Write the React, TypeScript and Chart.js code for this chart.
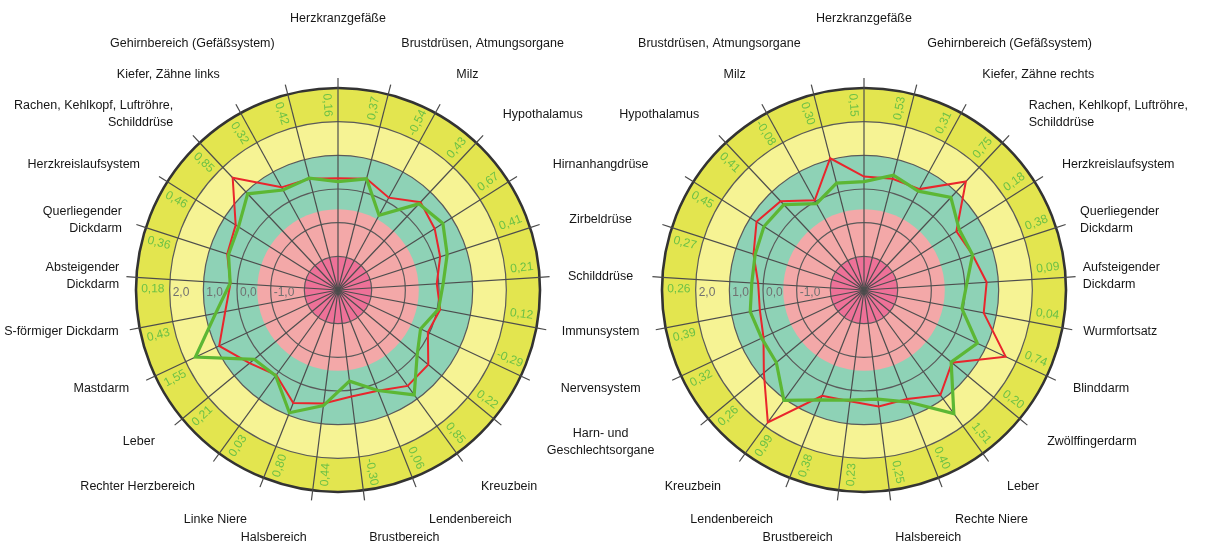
import { useEffect, useRef } from 'react';
import { Chart, registerables } from 'chart.js';

Chart.register(...registerables);

// ---------- data ----------
const leftLabels = [
  'Herzkranzgefäße', 'Brustdrüsen, Atmungsorgane', 'Milz', 'Hypothalamus', 'Hirnanhangdrüse',
  'Zirbeldrüse', 'Schilddrüse', 'Immunsystem', 'Nervensystem', 'Harn- und\nGeschlechtsorgane',
  'Kreuzbein', 'Lendenbereich', 'Brustbereich', 'Halsbereich', 'Linke Niere',
  'Rechter Herzbereich', 'Leber', 'Mastdarm', 'S-förmiger Dickdarm', 'Absteigender\nDickdarm',
  'Querliegender\nDickdarm', 'Herzkreislaufsystem', 'Rachen, Kehlkopf, Luftröhre,\nSchilddrüse',
  'Kiefer, Zähne links', 'Gehirnbereich (Gefäßsystem)',
];
const leftRed = [0.32, 0.41, 0.13, 0.58, 0.40, 0.19, -0.06, 0.09, -0.05, 0.48, 0.52, 0.22, 0.19,
  0.40, 0.61, 0.12, 0.41, 0.90, 0.41, 0.20, 0.46, 0.60, 1.57, 0.48, 0.41];
const leftGreen = [0.22, 0.41, -0.47, 0.51, 0.69, 0.41, 0.13, 0.04, -0.29, 0.05, 0.85, 0.21, -0.27,
  0.46, 0.92, 0.15, 0.23, 1.68, 0.70, 0.21, 0.42, 0.50, 0.92, 0.39, 0.43];
const leftNumbers = ['0,16', '0,37', '-0,54', '0,43', '0,67', '0,41', '0,21', '0,12', '-0,29', '0,22',
  '0,85', '0,06', '-0,30', '0,44', '0,80', '0,03', '0,21', '1,55', '0,43', '0,18', '0,36', '0,46',
  '0,85', '0,32', '0,42'];

const rightLabels = [
  'Herzkranzgefäße', 'Gehirnbereich (Gefäßsystem)', 'Kiefer, Zähne rechts',
  'Rachen, Kehlkopf, Luftröhre,\nSchilddrüse', 'Herzkreislaufsystem', 'Querliegender\nDickdarm',
  'Aufsteigender\nDickdarm', 'Wurmfortsatz', 'Blinddarm', 'Zwölffingerdarm', 'Leber',
  'Rechte Niere', 'Halsbereich', 'Brustbereich', 'Lendenbereich', 'Kreuzbein',
  'Harn- und\nGeschlechtsorgane', 'Nervensystem', 'Immunsystem', 'Schilddrüse', 'Zirbeldrüse',
  'Hirnanhangdrüse', 'Hypothalamus', 'Milz', 'Brustdrüsen, Atmungsorgane',
];
const rightRed = [0.37, 0.41, 0.42, 1.42, 0.25, 0.39, 0.65, 0.62, 1.65, 0.39, 0.86, 0.48, 0.49,
  0.33, 0.38, 1.86, 0.86, 0.30, 0.15, 0.15, 0.45, 0.78, 0.62, 0.04, 1.04];
const rightGreen = [0.22, 0.52, 0.35, 0.77, 0.35, 0.39, 0.06, -0.04, 0.72, 0.36, 1.54, 0.58, 0.27,
  0.30, 0.51, 1.05, 0.38, 0.36, 0.44, 0.34, 0.40, 0.52, 0.48, -0.07, 0.28];
const rightNumbers = ['0,15', '0,53', '0,31', '0,75', '0,18', '0,38', '0,09', '0,04', '0,74', '0,20',
  '1,51', '0,40', '0,25', '0,23', '0,38', '0,99', '0,26', '0,32', '0,39', '0,26', '0,27', '0,45',
  '0,41', '-0,08', '0,30'];

const tickValues = [-1, 0, 1, 2];
const sharedLabels = ['Hirnanhangdrüse', 'Zirbeldrüse', 'Schilddrüse', 'Immunsystem', 'Nervensystem',
  'Harn- und\nGeschlechtsorgane'];

// ---------- styles ----------
const bands = [
  { to: 3, color: '#e3e54f' },
  { to: 2, color: '#f6f394' },
  { to: 1, color: '#8ed2b6' },
  { to: -0.6, color: '#f3a8a8' },
  { to: -2, color: '#ee7198' },
];
const LABEL_FONT = '12.5px "Liberation Sans", Arial, sans-serif';
const NUM_FONT = '12px "Liberation Sans", Arial, sans-serif';
const TICK_FONT = '12px "Liberation Sans", Arial, sans-serif';

const fmtTick = (v: number) => v.toFixed(1).replace('.', ',');

function makeDecor(side: 'left' | 'right', labels: string[], numbers: string[]) {
  return {
    id: 'decor-' + side,
    beforeDraw(chart: any) {
      const s = chart.scales.r;
      const ctx = chart.ctx;
      ctx.save();
      for (const b of bands) {
        ctx.beginPath();
        ctx.arc(s.xCenter, s.yCenter, s.getDistanceFromCenterForValue(b.to), 0, Math.PI * 2);
        ctx.fillStyle = b.color;
        ctx.fill();
      }
      ctx.restore();
    },
    afterDraw(chart: any) {
      const s = chart.scales.r;
      const ctx = chart.ctx;
      const n = labels.length;
      const R = s.drawingArea;
      const xc = s.xCenter;
      const yc = s.yCenter;
      ctx.save();
      // spoke extensions beyond outer ring
      ctx.strokeStyle = '#4a4a4a';
      ctx.lineWidth = 1.2;
      for (let i = 0; i < n; i++) {
        const p1 = s.getPointPosition(i, R);
        const p2 = s.getPointPosition(i, R + 10);
        ctx.beginPath();
        ctx.moveTo(p1.x, p1.y);
        ctx.lineTo(p2.x, p2.y);
        ctx.stroke();
      }
      // scale labels along the left horizontal
      ctx.fillStyle = '#707070';
      ctx.font = TICK_FONT;
      ctx.textAlign = 'left';
      ctx.textBaseline = 'middle';
      for (const v of tickValues) {
        const d = s.getDistanceFromCenterForValue(v);
        ctx.fillText(fmtTick(v), xc - d + 3, yc + 3);
      }
      // green numbers in the outer band
      ctx.fillStyle = '#6cc146';
      ctx.font = NUM_FONT;
      ctx.textAlign = 'center';
      const rn = s.getDistanceFromCenterForValue(2.5);
      for (let i = 0; i < n; i++) {
        let a = s.getIndexAngle(i) - (3.3 * Math.PI) / 180;
        a = ((a % (Math.PI * 2)) + Math.PI * 2) % (Math.PI * 2);
        const x = xc + Math.sin(a) * rn;
        const y = yc - Math.cos(a) * rn;
        const rot = a < Math.PI ? a - Math.PI / 2 : a + Math.PI / 2;
        ctx.save();
        ctx.translate(x, y);
        ctx.rotate(rot);
        ctx.fillText(numbers[i], 0, 0);
        ctx.restore();
      }
      // category labels
      ctx.fillStyle = '#161616';
      ctx.font = LABEL_FONT;
      ctx.textBaseline = 'middle';
      const lh = 17;
      for (let i = 0; i < n; i++) {
        const label = labels[i];
        const shared = sharedLabels.includes(label);
        if (shared && side === 'right') continue;
        const a = s.getIndexAngle(i);
        const sn = Math.sin(a);
        const cs = Math.cos(a);
        const bump = cs > 0 ? 0.11 * Math.pow(cs, 40) : 0;
        const d = R * (1.075 + 0.16 * Math.abs(cs) + bump);
        let x = xc + sn * d;
        const y = yc - cs * d;
        let align: CanvasTextAlign = Math.abs(sn) < 0.05 ? 'center' : sn > 0 ? 'left' : 'right';
        if (shared) {
          x = xc + 1.3 * R;
          align = 'center';
        }
        ctx.textAlign = align;
        const lines = label.split('\n');
        const top = y - ((lines.length - 1) * lh) / 2;
        lines.forEach((ln, k) => ctx.fillText(ln, x, top + k * lh));
      }
      ctx.restore();
    },
  };
}

function buildChart(canvas: HTMLCanvasElement, side: 'left' | 'right', labels: string[],
  red: number[], green: number[], numbers: string[]) {
  return new Chart(canvas, {
    type: 'radar',
    data: {
      labels,
      datasets: [
        {
          data: green,
          borderColor: '#5cb734',
          backgroundColor: 'transparent',
          borderWidth: 3.2,
          fill: false,
          pointRadius: 0,
        },
        {
          data: red,
          borderColor: '#e9252c',
          backgroundColor: 'transparent',
          borderWidth: 2,
          fill: false,
          pointRadius: 0,
        },
      ],
    },
    options: {
      responsive: true,
      maintainAspectRatio: false,
      animation: false,
      events: [],
      layout: { padding: { left: 136, right: 140, top: 88, bottom: 55 } },
      elements: { line: { tension: 0, borderJoinStyle: 'miter' }, point: { radius: 0 } },
      plugins: { legend: { display: false }, tooltip: { enabled: false } },
      scales: {
        r: {
          min: -3,
          max: 3,
          beginAtZero: false,
          ticks: { display: false, stepSize: 1 },
          pointLabels: { display: false },
          grid: {
            circular: true,
            color: (c: any) => (c.tick && c.tick.value === 3 ? '#333333' : '#5a5a5a'),
            lineWidth: (c: any) => (c.tick && c.tick.value === 3 ? 2.6 : 1.2),
          },
          angleLines: { color: '#4d4d4d', lineWidth: 1.2 },
        },
      },
    } as any,
    plugins: [makeDecor(side, labels, numbers)],
  });
}

export default function App() {
  const leftRef = useRef<HTMLCanvasElement>(null);
  const rightRef = useRef<HTMLCanvasElement>(null);
  useEffect(() => {
    const charts = [
      buildChart(leftRef.current!, 'left', leftLabels, leftRed, leftGreen, leftNumbers),
      buildChart(rightRef.current!, 'right', rightLabels, rightRed, rightGreen, rightNumbers),
    ];
    return () => charts.forEach((c) => c.destroy());
  }, []);
  return (
    <div style={{ position: 'fixed', left: 0, top: 0, width: 1206, height: 547, background: '#fff', overflow: 'hidden' }}>
      <div style={{ position: 'absolute', left: 0, top: 0, width: 680, height: 547 }}>
        <canvas ref={leftRef} />
      </div>
      <div style={{ position: 'absolute', left: 526, top: 0, width: 680, height: 547 }}>
        <canvas ref={rightRef} />
      </div>
    </div>
  );
}
